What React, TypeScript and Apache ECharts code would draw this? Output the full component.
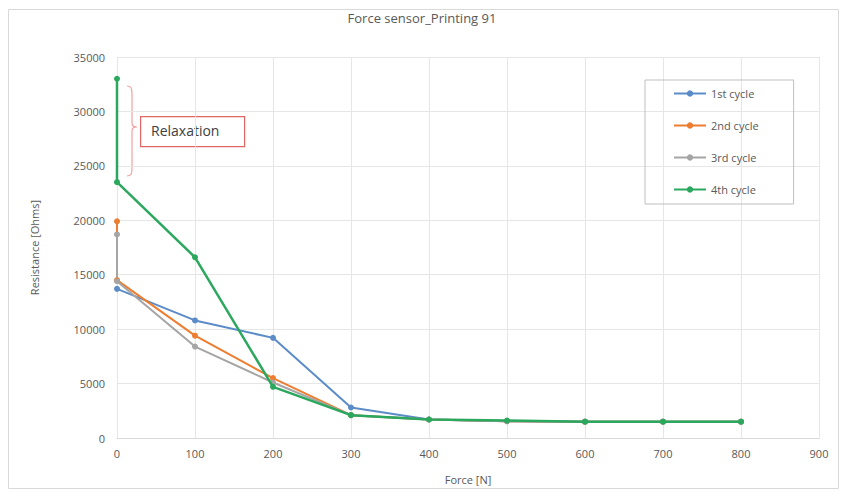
import React, { useEffect, useRef } from "react";
import * as echarts from "echarts";

const seriesNames = ["1st cycle", "2nd cycle", "3rd cycle", "4th cycle"];
const colors = ["#5B8CC8", "#ED7D31", "#A5A5A5", "#2BA85E"];

const force1 = [0, 100, 200, 300, 400, 500, 600, 700, 800];
const res1 = [13700, 10800, 9200, 2800, 1700, 1550, 1500, 1500, 1500];

const force2 = [0, 0, 100, 200, 300, 400, 500, 600, 700, 800];
const res2 = [19900, 14500, 9400, 5500, 2100, 1700, 1550, 1500, 1500, 1500];

const force3 = [0, 0, 100, 200, 300, 400, 500, 600, 700, 800];
const res3 = [18700, 14400, 8400, 5100, 2100, 1700, 1550, 1500, 1500, 1500];

const force4 = [0, 0, 100, 200, 300, 400, 500, 600, 700, 800];
const res4 = [33000, 23500, 16600, 4700, 2100, 1700, 1600, 1500, 1500, 1500];

const allForce = [force1, force2, force3, force4];
const allRes = [res1, res2, res3, res4];

const BRACE_D = "M0,0 C4,0 5,2 5,8 L5,36 C5,40 6,41 10,41 C6,41 5,42 5,46 L5,82 C5,88 4,90 0,90";
echarts.graphic.registerShape("relaxBrace", echarts.graphic.extendPath(BRACE_D, {}) as any);

export default function App() {
  const ref = useRef<HTMLDivElement>(null);
  useEffect(() => {
    if (!ref.current) return;
    document.body.style.margin = "0";
    const chart = echarts.init(ref.current, null, { renderer: "svg" });
    const textColor = "#595959";
    const font = "'Open Sans', 'Liberation Sans', sans-serif";
    chart.setOption({
      animation: false,
      textStyle: { fontFamily: font },
      title: {
        text: "Force sensor_Printing 91",
        left: "center",
        top: 6,
        textStyle: { fontSize: 13, fontWeight: "normal", color: textColor, fontFamily: font },
      },
      grid: { left: 117, right: 25, top: 57, bottom: 55 },
      legend: {
        orient: "vertical",
        left: 645,
        top: 80,
        padding: [8, 35, 9, 28],
        itemGap: 21,
        itemWidth: 32,
        itemHeight: 8,
        borderColor: "#BFBFBF",
        borderWidth: 1,
        data: seriesNames,
        textStyle: { fontSize: 11, color: textColor, fontFamily: font },
      },
      xAxis: {
        type: "value",
        min: 0,
        max: 900,
        interval: 100,
        name: "Force [N]",
        nameLocation: "middle",
        nameGap: 36,
        nameTextStyle: { fontSize: 11, color: textColor },
        axisLine: { show: true, lineStyle: { color: "#D9D9D9" } },
        axisTick: { show: false },
        axisLabel: { fontSize: 11, color: textColor, margin: 10 },
        splitLine: { show: true, lineStyle: { color: "#E6E6E6" } },
      },
      yAxis: {
        type: "value",
        min: 0,
        max: 35000,
        interval: 5000,
        name: "Resistance [Ohms]",
        nameLocation: "middle",
        nameGap: 77,
        nameTextStyle: { fontSize: 11, color: textColor },
        axisLine: { show: false },
        axisTick: { show: false },
        axisLabel: { fontSize: 11, color: textColor, margin: 12, formatter: (v: number) => String(v) },
        splitLine: { show: true, lineStyle: { color: "#E6E6E6" } },
      },
      series: seriesNames.map((name, i) => ({
        name,
        type: "line",
        data: allForce[i].map((f, j) => [f, allRes[i][j]]),
        symbol: "circle",
        symbolSize: 6,
        color: colors[i],
        lineStyle: { width: i === 3 ? 2.5 : 2, color: colors[i] },
        itemStyle: { color: colors[i] },
        z: i === 3 ? 5 : 2,
      })),
      graphic: [
        {
          type: "rect",
          left: 6,
          top: 7,
          shape: { width: 830, height: 479 },
          style: { fill: "none", stroke: "#D9D9D9", lineWidth: 1 },
          silent: true,
          z: -1,
        },
        {
          type: "relaxBrace",
          x: 127,
          y: 86,
          scaleX: 1,
          scaleY: 1,
          style: { fill: "none", stroke: "#F2A0A0", lineWidth: 1.2 },
          silent: true,
        },
        {
          type: "rect",
          left: 140,
          top: 116,
          shape: { width: 104, height: 30 },
          style: { fill: "#FFFFFF", stroke: "#E06666", lineWidth: 1.2 },
          silent: true,
        },
        {
          type: "text",
          left: 151,
          top: 123,
          style: { text: "Relaxation", fontSize: 14, fill: "#404040", fontFamily: font },
          silent: true,
        },
      ],
    });
    return () => chart.dispose();
  }, []);
  return <div ref={ref} style={{ width: 844, height: 493 }} />;
}
